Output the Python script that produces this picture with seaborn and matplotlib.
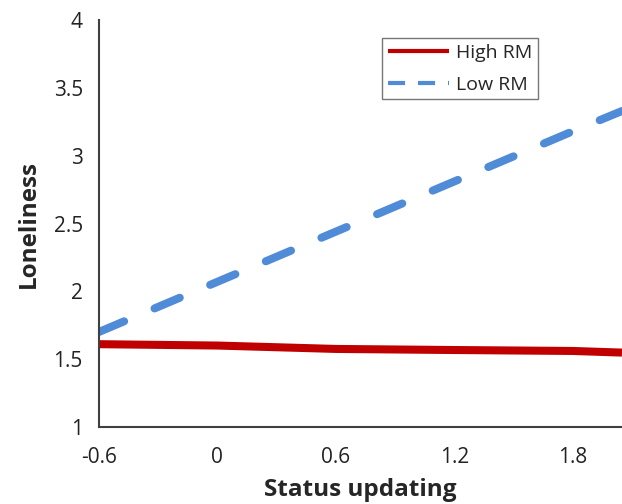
import pandas as pd
import numpy as np
import matplotlib
matplotlib.use("Agg")
import matplotlib.pyplot as plt
from matplotlib.lines import Line2D
import seaborn as sns

# Values
status_updating = [-0.6, 0.0, 0.6, 1.2, 1.8, 2.05]
high_rm = [1.61, 1.60, 1.575, 1.567, 1.56, 1.548]
low_rm = [1.70, 2.07, 2.44, 2.81, 3.18, 3.33]
groups = ["High RM", "Low RM"]
x_ticks = [-0.6, 0, 0.6, 1.2, 1.8]
x_tick_labels = ["-0.6", "0", "0.6", "1.2", "1.8"]
y_ticks = [1, 1.5, 2, 2.5, 3, 3.5, 4]
y_tick_labels = ["1", "1.5", "2", "2.5", "3", "3.5", "4"]

colors = {"High RM": "#C00000", "Low RM": "#4F8BD6"}

df = pd.DataFrame({
    "Status updating": status_updating * 2,
    "Loneliness": high_rm + low_rm,
    "group": [groups[0]] * len(high_rm) + [groups[1]] * len(low_rm),
})

sns.set_style("white")
plt.rcParams["font.family"] = ["Open Sans", "DejaVu Sans"]
plt.rcParams["lines.dash_capstyle"] = "round"
plt.rcParams["lines.solid_capstyle"] = "butt"

fig = plt.figure(figsize=(6.22, 5.04), dpi=100)
ax = fig.add_axes([0.159, 0.153, 0.841, 0.807])

sns.lineplot(data=df, x="Status updating", y="Loneliness", hue="group",
             style="group", palette=colors,
             dashes={"High RM": "", "Low RM": (3.4, 4.1)},
             linewidth=5.8, legend=False, ax=ax)

ax.set_xlim(-0.6, 2.05)
ax.set_ylim(1, 4)
ax.set_xticks(x_ticks)
ax.set_xticklabels(x_tick_labels)
ax.set_yticks(y_ticks)
ax.set_yticklabels(y_tick_labels)

for s in ["top", "right"]:
    ax.spines[s].set_visible(False)
for s in ["left", "bottom"]:
    ax.spines[s].set_color("#404040")
    ax.spines[s].set_linewidth(1.5)

ax.tick_params(axis="both", direction="out", length=5.5, width=1.5,
               color="#404040", labelsize=15, labelcolor="#222222")
ax.tick_params(axis="x", pad=9)
ax.tick_params(axis="y", pad=6)

ax.set_xlabel("Status updating", fontsize=17.5, fontweight="bold", labelpad=7)
ax.set_ylabel("Loneliness", fontsize=17.5, fontweight="bold", labelpad=9)

handles = [
    Line2D([], [], color=colors["High RM"], lw=3.0, solid_capstyle="butt"),
    Line2D([], [], color=colors["Low RM"], lw=3.0, linestyle=(0, (4.1, 3.1)),
           dash_capstyle="butt"),
]
leg = ax.legend(handles, groups, loc="upper left", bbox_to_anchor=(0.541, 0.956),
                borderaxespad=0, fontsize=14, frameon=True, fancybox=False,
                handlelength=3.15, handletextpad=0.35, labelspacing=0.7,
                borderpad=0.3)
leg.get_frame().set_edgecolor("#555555")
leg.get_frame().set_linewidth(1.0)

fig.savefig("out.png", dpi=100)
